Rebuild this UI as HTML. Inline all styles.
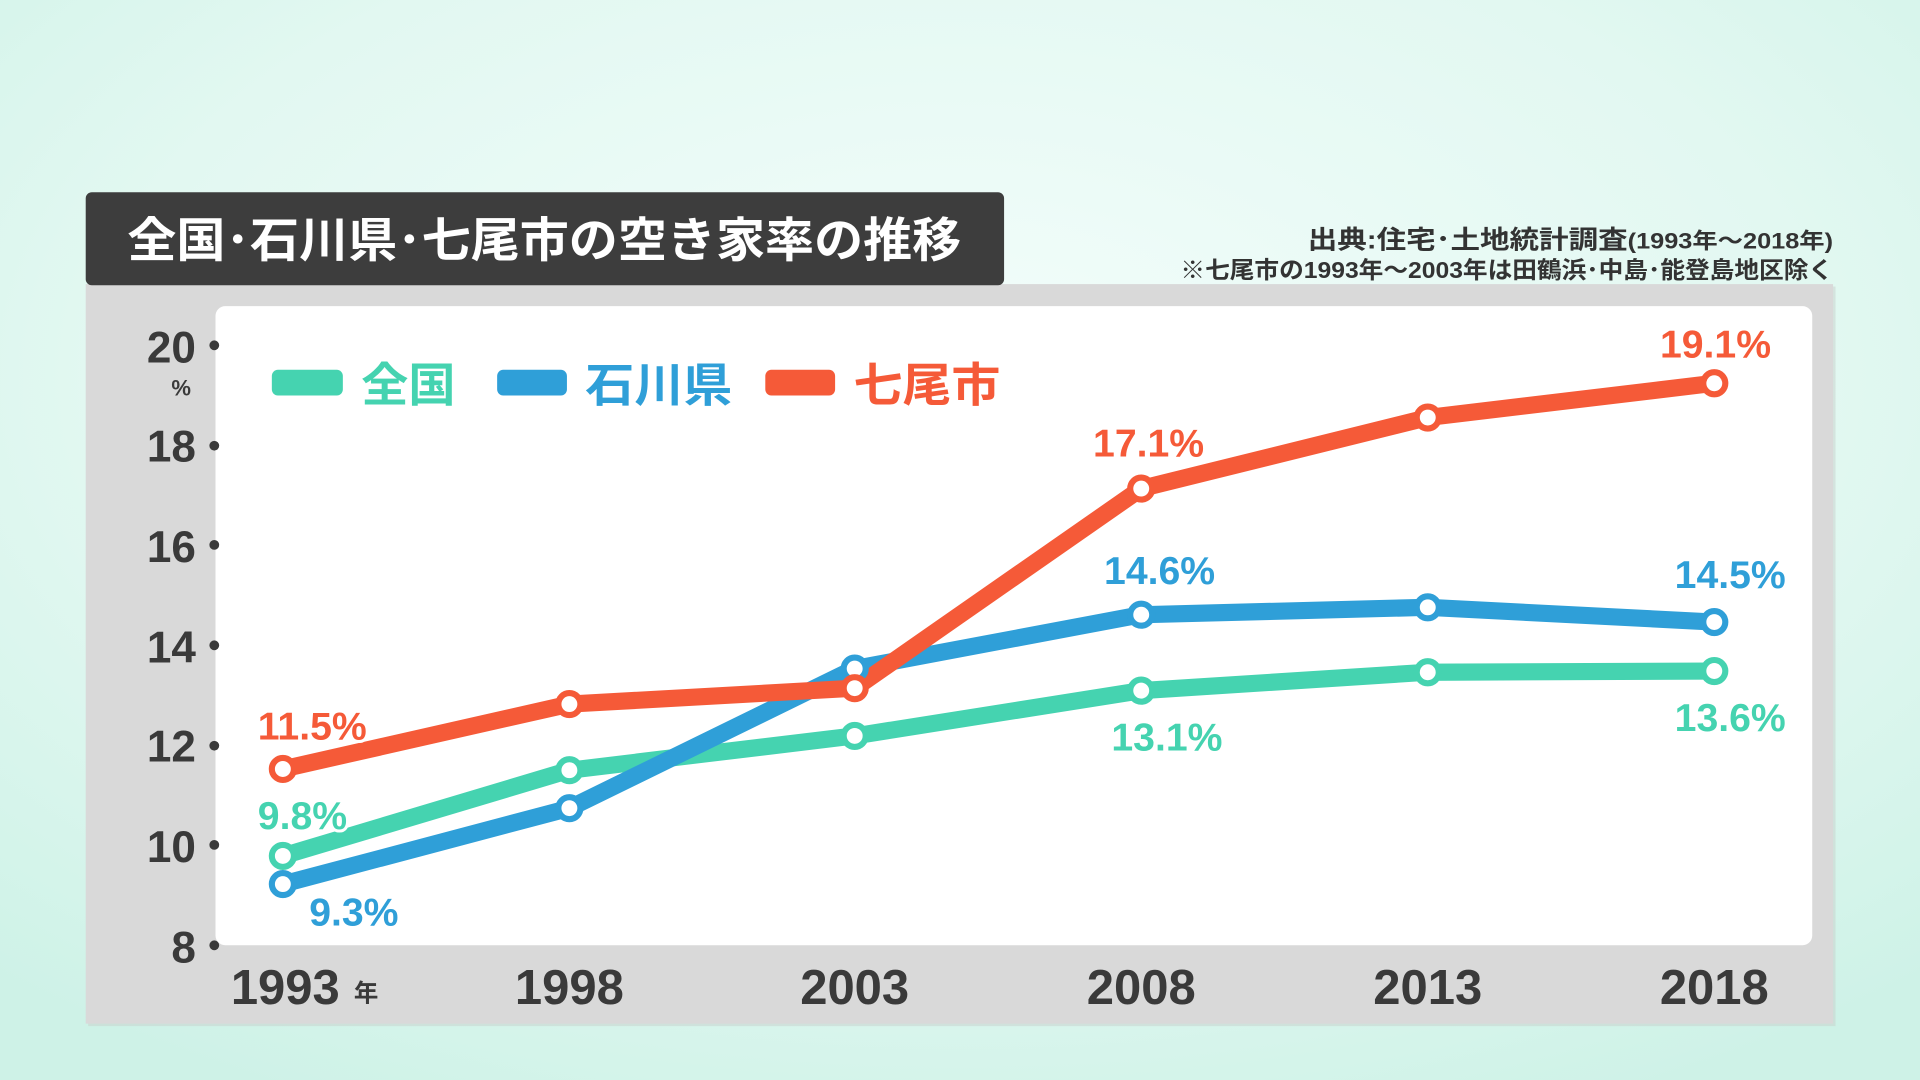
<!DOCTYPE html>
<html><head><meta charset="utf-8"><style>
html,body{margin:0;padding:0;width:1920px;height:1080px;overflow:hidden;}
body{background:radial-gradient(ellipse at 50% 40%,#f2fdfa 0%,#e2f8f2 55%,#cdf2e7 100%);}
svg{display:block;}
text{font-family:"Liberation Sans","Noto Sans CJK JP",sans-serif;font-weight:bold;}
</style></head><body>
<svg width="1920" height="1080" viewBox="0 0 1568 882" xmlns="http://www.w3.org/2000/svg">
<defs>
<radialGradient id="bg" cx="50%" cy="35%" r="75%">
<stop offset="0" stop-color="#f3fdfb"/><stop offset="0.6" stop-color="#e2f8f1"/><stop offset="1" stop-color="#cef2e7"/>
</radialGradient>
</defs>
<rect width="1568" height="882" fill="url(#bg)"/>
<rect x="72" y="234" width="1427" height="604" fill="#c8cfcc" opacity="0.5"/>
<rect x="70" y="232" width="1427" height="604" fill="#d9d9d9"/>
<rect x="70" y="157" width="750" height="76" rx="5" fill="#3d3d3d"/>
<text x="104" y="210" font-size="39" fill="#fff" textLength="681" lengthAdjust="spacingAndGlyphs">全国･石川県･七尾市の空き家率の推移</text>
<text x="1068" y="203" font-size="21" fill="#333" textLength="429" lengthAdjust="spacingAndGlyphs">出典:住宅･土地統計調査<tspan font-size="18">(1993年～2018年)</tspan></text>
<text x="964" y="227" font-size="19" fill="#333" textLength="533" lengthAdjust="spacingAndGlyphs">※七尾市の1993年～2003年は田鶴浜･中島･能登島地区除く</text>
<rect x="176" y="250" width="1304" height="522" rx="8" fill="#fff"/>
<g font-size="36" fill="#3a3a3a" text-anchor="end">
<text x="160" y="296">20</text><text x="160" y="377">18</text><text x="160" y="459">16</text>
<text x="160" y="541">14</text><text x="160" y="622">12</text><text x="160" y="704">10</text><text x="160" y="786">8</text>
</g>
<text x="148" y="323" font-size="18" fill="#3a3a3a" text-anchor="middle">%</text>
<g fill="#3a3a3a">
<circle cx="175" cy="282" r="4"/><circle cx="175" cy="364" r="4"/><circle cx="175" cy="445" r="4"/>
<circle cx="175" cy="527" r="4"/><circle cx="175" cy="609" r="4"/><circle cx="175" cy="690" r="4"/><circle cx="175" cy="772" r="4"/>
</g>
<g font-size="40" fill="#3a3a3a" text-anchor="middle">
<text x="233" y="820">1993</text><text x="465" y="820">1998</text><text x="698" y="820">2003</text>
<text x="932" y="820">2008</text><text x="1166" y="820">2013</text><text x="1400" y="820">2018</text>
</g>
<text x="299" y="818" font-size="20" fill="#3a3a3a" text-anchor="middle">年</text>
<rect x="222" y="302" width="58" height="21" rx="5" fill="#45d3b0"/>
<text x="295" y="328" font-size="38" fill="#45d3b0" textLength="77" lengthAdjust="spacingAndGlyphs">全国</text>
<rect x="406" y="302" width="57" height="21" rx="5" fill="#2f9fd8"/>
<text x="478" y="328" font-size="38" fill="#2f9fd8" textLength="120" lengthAdjust="spacingAndGlyphs">石川県</text>
<rect x="625" y="302" width="57" height="21" rx="5" fill="#f55a38"/>
<text x="697" y="328" font-size="38" fill="#f55a38" textLength="120" lengthAdjust="spacingAndGlyphs">七尾市</text>
<g fill="none" stroke-width="14" stroke-linejoin="round" stroke-linecap="round">
<polyline stroke="#45d3b0" points="231,699 465,629 698,601 932,564 1166,549 1400,548"/>
<polyline stroke="#2f9fd8" points="231,722 465,660 698,546 932,502 1166,496 1400,508"/>
<polyline stroke="#f55a38" points="231,628 465,575 698,562 932,399 1166,341 1400,313"/>
</g>
<g fill="#fff" stroke-width="5">
<g stroke="#45d3b0"><circle cx="231" cy="699" r="9"/><circle cx="465" cy="629" r="9"/><circle cx="698" cy="601" r="9"/><circle cx="932" cy="564" r="9"/><circle cx="1166" cy="549" r="9"/><circle cx="1400" cy="548" r="9"/></g>
<g stroke="#2f9fd8"><circle cx="231" cy="722" r="9"/><circle cx="465" cy="660" r="9"/><circle cx="698" cy="546" r="9"/><circle cx="932" cy="502" r="9"/><circle cx="1166" cy="496" r="9"/><circle cx="1400" cy="508" r="9"/></g>
<g stroke="#f55a38"><circle cx="231" cy="628" r="9"/><circle cx="465" cy="575" r="9"/><circle cx="698" cy="562" r="9"/><circle cx="932" cy="399" r="9"/><circle cx="1166" cy="341" r="9"/><circle cx="1400" cy="313" r="9"/></g>
</g>
<g font-size="32" text-anchor="middle" stroke="#fff" stroke-width="5" paint-order="stroke">
<text x="255" y="604" fill="#f55a38">11.5%</text>
<text x="247" y="677" fill="#45d3b0">9.8%</text>
<text x="289" y="756" fill="#2f9fd8">9.3%</text>
<text x="938" y="373" fill="#f55a38">17.1%</text>
<text x="947" y="477" fill="#2f9fd8">14.6%</text>
<text x="953" y="613" fill="#45d3b0">13.1%</text>
<text x="1401" y="292" fill="#f55a38">19.1%</text>
<text x="1413" y="480" fill="#2f9fd8">14.5%</text>
<text x="1413" y="597" fill="#45d3b0">13.6%</text>
</g>
</svg>
</body></html>
